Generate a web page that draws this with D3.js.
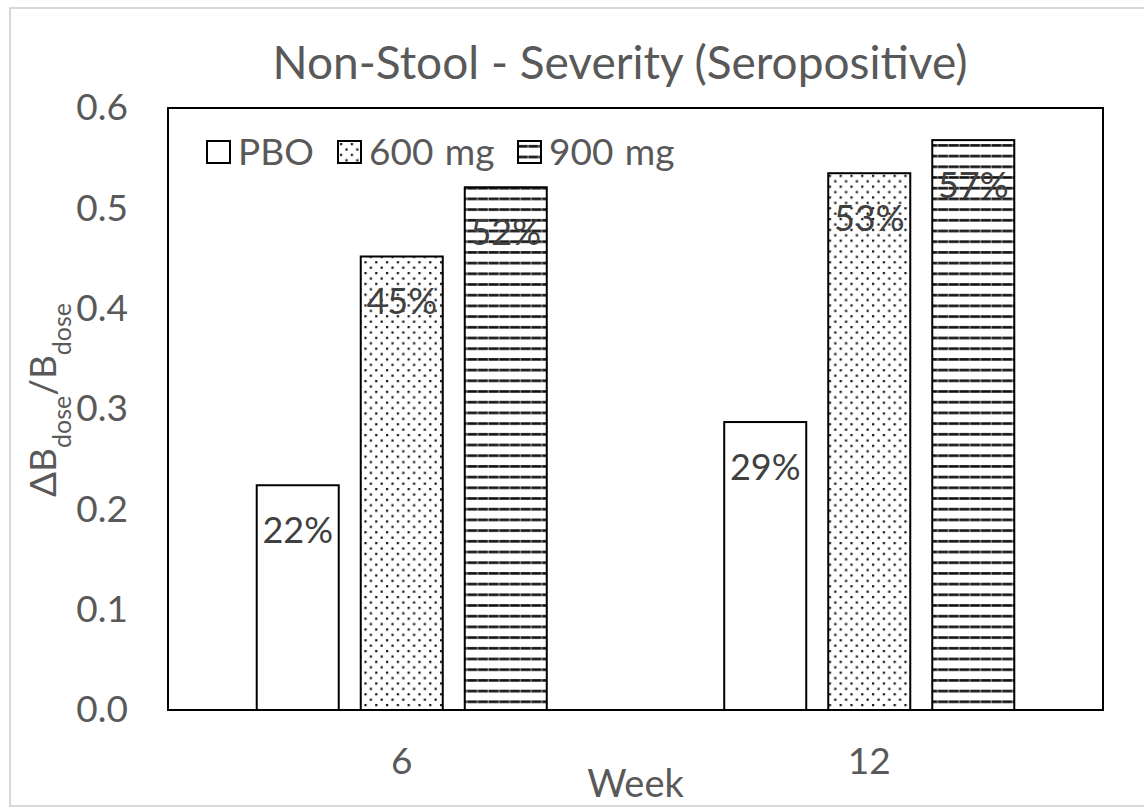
<!DOCTYPE html>
<html>
<head>
<meta charset="utf-8">
<script src="https://cdn.jsdelivr.net/npm/d3@7"></script>
<style>
  body { margin: 0; background: #fff; }
  text { font-family: Lato, "Noto Sans", sans-serif; }
</style>
</head>
<body>
<div id="chart"></div>
<script>
// chart values
const weeks = ["6", "12"];
const series = ["PBO", "600 mg", "900 mg"];
const pbo = [0.224, 0.287];
const dose600 = [0.452, 0.535];
const dose900 = [0.521, 0.568];
const pctLabels = [["22%", "29%"], ["45%", "53%"], ["52%", "57%"]];
const yTicks = [0, 0.1, 0.2, 0.3, 0.4, 0.5, 0.6];

const allValues = [pbo, dose600, dose900];
const fills = ["#fff", "url(#dots)", "url(#stripes)"];

const width = 1144, height = 809;
const margin = {top: 108, right: 41, bottom: 99, left: 168};
const innerW = width - margin.left - margin.right;
const innerH = height - margin.top - margin.bottom;

const svg = d3.select("#chart").append("svg")
    .attr("width", width)
    .attr("height", height);

// patterns
const defs = svg.append("defs");
const dots = defs.append("pattern")
    .attr("id", "dots")
    .attr("patternUnits", "userSpaceOnUse")
    .attr("width", 10.8).attr("height", 10.8);
dots.append("rect").attr("width", 10.8).attr("height", 10.8).attr("fill", "#fff");
dots.append("rect").attr("x", 2).attr("y", 2).attr("width", 2.2).attr("height", 2.2).attr("fill", "#111");
dots.append("rect").attr("x", 7.4).attr("y", 7.4).attr("width", 2.2).attr("height", 2.2).attr("fill", "#111");

const stripes = defs.append("pattern")
    .attr("id", "stripes")
    .attr("patternUnits", "userSpaceOnUse")
    .attr("width", 10.7).attr("height", 10.7);
stripes.append("rect").attr("width", 10.7).attr("height", 10.7).attr("fill", "#fff");
stripes.append("rect").attr("x", 0).attr("y", 4).attr("width", 9.6).attr("height", 2.6).attr("fill", "#111");
stripes.append("rect").attr("x", 9.6).attr("y", 4).attr("width", 1.1).attr("height", 2.6).attr("fill", "#777");

// outer chart border
svg.append("rect")
    .attr("x", 10).attr("y", 8)
    .attr("width", width + 20).attr("height", 798)
    .attr("fill", "none")
    .attr("stroke", "#d9d9d9")
    .attr("stroke-width", 2);

const g = svg.append("g")
    .attr("transform", `translate(${margin.left},${margin.top})`);

// scales
const x0 = d3.scaleBand().domain(weeks).range([0, innerW]).padding(0);
const x1 = d3.scaleBand().domain(series).range([0, x0.bandwidth()])
    .paddingInner(0.2115).paddingOuter(0.853);
const y = d3.scaleLinear().domain([0, 0.6]).range([innerH, 0]);

// y axis labels (no tick marks)
const yAxis = d3.axisLeft(y).tickValues(yTicks).tickFormat(d3.format(".1f")).tickSize(0).tickPadding(40);
g.append("g").call(yAxis)
    .call(s => s.select(".domain").remove())
    .selectAll("text")
    .attr("fill", "#595959")
    .style("font-size", "37px")
    .style("font-family", "Lato, sans-serif");

// x axis labels
const xAxis = d3.axisBottom(x0).tickSize(0).tickPadding(38);
g.append("g").attr("transform", `translate(0,${innerH})`).call(xAxis)
    .call(s => s.select(".domain").remove())
    .selectAll("text")
    .attr("fill", "#595959")
    .style("font-size", "37px")
    .style("font-family", "Lato, sans-serif");

// bars
const barData = [];
series.forEach((s, si) => {
    weeks.forEach((w, wi) => {
        barData.push({series: s, si: si, week: w, value: allValues[si][wi], label: pctLabels[si][wi]});
    });
});

const groups = g.selectAll(".bar")
    .data(barData)
    .enter().append("g")
    .attr("class", "bar");

groups.append("rect")
    .attr("x", d => x0(d.week) + x1(d.series))
    .attr("y", d => y(d.value))
    .attr("width", x1.bandwidth())
    .attr("height", d => innerH - y(d.value))
    .attr("fill", d => fills[d.si])
    .attr("stroke", "#000")
    .attr("stroke-width", 2);

groups.append("text")
    .attr("x", d => x0(d.week) + x1(d.series) + x1.bandwidth() / 2)
    .attr("y", d => y(d.value) + 58)
    .attr("text-anchor", "middle")
    .attr("fill", "#404040")
    .style("font-size", "36px")
    .text(d => d.label);

// plot border
g.append("rect")
    .attr("width", innerW).attr("height", innerH)
    .attr("fill", "none")
    .attr("stroke", "#000")
    .attr("stroke-width", 2);

// legend
const legendX = [207, 338, 518];
const legend = g.selectAll(".legend")
    .data(series)
    .enter().append("g")
    .attr("class", "legend")
    .attr("transform", (d, i) => `translate(${legendX[i] - margin.left},${141 - margin.top})`);
legend.append("rect")
    .attr("width", 23).attr("height", 22)
    .attr("fill", (d, i) => fills[i])
    .attr("stroke", "#000")
    .attr("stroke-width", 2);
legend.append("text")
    .attr("x", 31).attr("y", 24)
    .attr("fill", "#595959")
    .style("font-size", "37px")
    .style("word-spacing", "2px")
    .text(d => d);

// title
svg.append("text")
    .attr("x", 620).attr("y", 79)
    .attr("text-anchor", "middle")
    .attr("fill", "#595959")
    .style("font-size", "46px")
    .text("Non-Stool - Severity (Seropositive)");

// x axis title
svg.append("text")
    .attr("x", margin.left + innerW / 2).attr("y", 797)
    .attr("text-anchor", "middle")
    .attr("fill", "#595959")
    .style("font-size", "38px")
    .text("Week");

// y axis title with subscripts
const yTitle = svg.append("text")
    .attr("transform", "translate(56,400) rotate(-90)")
    .attr("text-anchor", "middle")
    .attr("fill", "#595959")
    .style("font-size", "37px");
yTitle.append("tspan").text("ΔB");
yTitle.append("tspan").attr("baseline-shift", "sub").style("font-size", "25px").text("dose");
yTitle.append("tspan").text("/B");
yTitle.append("tspan").attr("baseline-shift", "sub").style("font-size", "25px").text("dose");
</script>
</body>
</html>
